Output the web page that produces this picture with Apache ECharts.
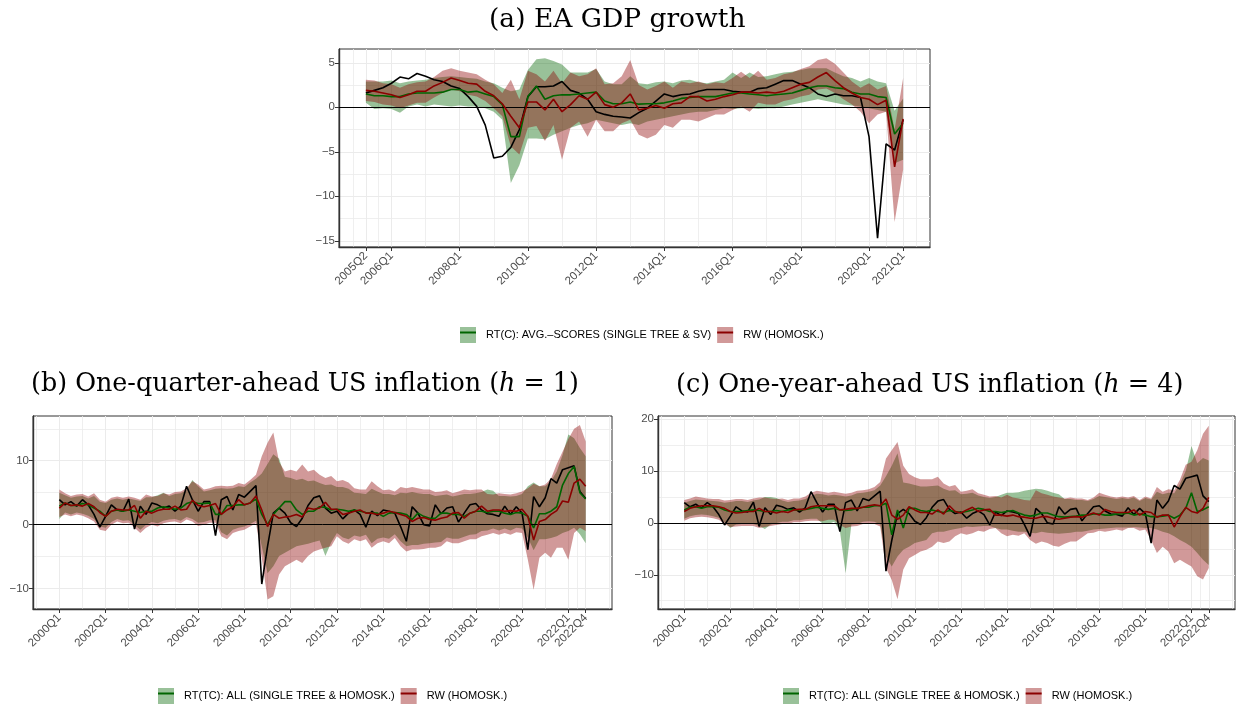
<!DOCTYPE html>
<html>
<head>
<meta charset="utf-8">
<script src="https://cdn.jsdelivr.net/npm/echarts@6/dist/echarts.min.js"></script>
<style>
  html, body { margin: 0; background: #fff; }
  #main { width: 1236px; height: 706px; }
</style>
</head>
<body>
<div id="main"></div>
<script>
// quarter lists (x categories)
function quarterList(y, q, n) {
  const out = [];
  for (let k = 0; k < n; k++) {
    out.push(y + 'Q' + q);
    q++;
    if (q > 4) { q = 1; y++; }
  }
  return out;
}
const quartersEA = quarterList(2005, 2, 64);
const quartersUS = quarterList(2000, 1, 92);

// tick labels
const ticksEA = ['2005Q2', '2006Q1', '2008Q1', '2010Q1', '2012Q1', '2014Q1', '2016Q1', '2018Q1', '2020Q1', '2021Q1'];
const ticksUS = ['2000Q1', '2002Q1', '2004Q1', '2006Q1', '2008Q1', '2010Q1', '2012Q1', '2014Q1', '2016Q1', '2018Q1', '2020Q1', '2022Q1', '2022Q4'];
const yTicksA = [5, 0, -5, -10, -15];
const yTicksB = [10, 0, -10];
const yTicksC = [20, 10, 0, -10];

// (a) EA GDP growth
const gdpActual = [1.6, 1.9, 2.2, 2.7, 3.4, 3.2, 3.8, 3.5, 3.1, 2.9, 2.4, 2.1, 1.2, 0.1, -2.0, -5.7, -5.5, -4.5, -2.5, 1.2, 2.3, 2.3, 2.4, 2.9, 1.9, 1.6, 0.9, -0.5, -0.8, -1.0, -1.1, -1.2, -0.6, -0.1, 0.7, 1.5, 1.2, 1.4, 1.5, 1.8, 2.0, 2.0, 2.0, 1.8, 1.7, 1.7, 2.1, 2.2, 2.6, 3.0, 3.0, 2.6, 2.2, 1.5, 1.2, 1.5, 1.3, 1.3, 1.1, -3.3, -14.7, -4.1, -4.8, -1.4];
const gdpRT = [1.5, 1.3, 1.3, 1.2, 1.2, 1.5, 1.6, 1.6, 1.6, 1.7, 2.0, 2.0, 1.7, 1.8, 1.5, 1.2, 0.3, -3.3, -3.3, 1.2, 2.4, 0.9, 1.3, 1.4, 1.4, 1.5, 1.6, 1.7, 0.7, 0.4, 0.4, 0.6, 0.35, 0.4, 0.4, 0.5, 0.7, 1.0, 1.1, 1.2, 1.2, 1.2, 1.4, 1.6, 1.6, 1.5, 1.4, 1.3, 1.4, 1.5, 1.6, 1.9, 2.2, 2.4, 2.4, 2.2, 2.1, 1.7, 1.5, 1.5, 1.2, 1.1, -3.0, -1.8];
const gdpRW = [1.9, 1.8, 1.6, 1.4, 1.1, 1.4, 1.8, 1.8, 2.4, 2.8, 3.3, 3.0, 2.7, 2.6, 1.8, 1.3, 0.4, -1.0, -2.3, 0.6, 0.6, -0.3, 0.9, -0.5, 0.3, 1.3, 0.9, 1.7, 0.3, 0.0, 0.5, 1.5, -0.3, -0.1, 0.2, -0.1, 0.4, 0.5, 1.2, 1.2, 0.7, 0.9, 1.2, 1.4, 1.7, 1.7, 1.6, 1.7, 1.6, 1.8, 2.2, 2.6, 2.8, 3.4, 3.9, 3.0, 2.2, 1.6, 1.1, 0.9, 0.3, 0.8, -6.7, -1.3];
const gdpRTUpper = [2.9, 2.9, 2.9, 3.0, 2.7, 2.9, 3.0, 3.1, 3.3, 3.4, 3.5, 3.4, 3.3, 3.2, 2.9, 2.7, 2.2, 1.8, 2.0, 4.2, 5.4, 5.5, 5.2, 4.8, 3.9, 3.9, 3.9, 4.3, 2.9, 2.6, 2.6, 3.5, 2.7, 2.6, 2.8, 2.9, 2.7, 3.0, 3.1, 2.8, 2.7, 2.9, 3.1, 3.9, 3.3, 3.9, 3.4, 3.5, 3.7, 3.9, 4.0, 4.2, 4.4, 4.4, 4.4, 3.9, 3.5, 3.3, 2.9, 3.3, 2.9, 2.7, -0.4, 1.0];
const gdpRTLower = [0.5, -0.2, -0.1, -0.2, -0.6, 0.1, 0.3, 0.1, 0.3, 0.2, 0.1, 0.2, 0.1, 0.1, -0.1, -0.5, -1.4, -8.5, -6.5, -3.5, -3.5, -3.6, -3.1, -2.7, -2.3, -2.0, -1.8, -1.4, -1.6, -1.8, -2.0, -1.8, -2.0, -1.6, -1.4, -1.2, -1.0, -0.8, -0.6, -0.5, -0.5, -0.3, -0.1, -0.2, -0.1, -0.1, -0.2, -0.1, -0.1, 0.1, 0.3, 0.5, 0.7, 0.9, 0.7, 0.5, 0.3, 0.2, 0.1, -0.1, -0.3, -0.5, -6.3, -5.9];
const gdpRWUpper = [3.1, 3.0, 2.7, 2.6, 2.2, 2.6, 2.8, 2.9, 3.4, 4.1, 4.4, 4.1, 3.9, 3.7, 3.1, 2.6, 1.6, 3.1, 0.9, 4.1, 3.7, 2.9, 4.1, 2.7, 3.9, 3.5, 3.7, 4.4, 2.6, 2.7, 3.5, 5.3, 2.5, 2.0, 2.4, 2.9, 2.2, 2.9, 2.7, 2.9, 2.6, 2.8, 2.7, 3.3, 4.0, 3.3, 4.1, 3.1, 3.3, 3.7, 3.9, 4.3, 4.6, 5.3, 5.5, 4.9, 3.9, 2.9, 2.2, 2.7, 2.0, 2.4, -2.5, 3.3];
const gdpRWLower = [0.7, 0.6, 0.3, 0.2, -0.1, 0.2, 0.5, 0.5, 1.1, 1.6, 2.0, 1.8, 1.4, 1.2, 0.7, -0.1, -1.0, -4.4, -5.3, -2.3, -2.1, -3.8, -2.0, -5.9, -2.3, -1.6, -3.3, -1.4, -2.7, -2.7, -1.8, -1.4, -3.1, -3.5, -3.1, -2.0, -2.3, -1.4, -1.4, -1.6, -1.2, -0.8, -0.8, -0.3, 0.1, -0.5, 0.5, 0.3, 0.3, 0.7, 0.9, 1.2, 1.4, 2.0, 2.1, 1.6, 0.9, 0.3, -0.5, -1.8, -0.8, -0.5, -12.9, -7.0];

// realised US inflation (panels b and c)
const infActual = [3.9, 3.1, 3.6, 2.9, 3.9, 3.1, 1.6, -0.4, 1.3, 3.1, 2.3, 2.1, 4.0, -0.7, 2.9, 1.6, 3.4, 3.1, 2.6, 2.9, 2.1, 2.9, 6.0, 3.9, 2.1, 3.6, 3.6, -1.7, 3.9, 4.4, 2.3, 4.7, 4.3, 5.2, 6.1, -9.3, -3.4, 1.8, 2.6, 1.8, 0.3, -0.3, 1.0, 3.0, 4.2, 4.5, 2.6, 1.8, 2.1, 0.9, 1.8, 2.3, 1.6, -0.4, 2.1, 1.4, 2.3, 2.1, 1.8, -0.3, -2.6, 2.8, 1.8, 0.0, -0.2, 3.1, 1.7, 2.6, 2.8, 0.4, 1.8, 3.1, 3.3, 2.3, 1.7, 1.6, 1.3, 2.9, 1.6, 2.8, 1.8, -3.9, 4.4, 2.8, 4.2, 7.2, 6.5, 8.6, 8.9, 9.2, 5.2, 4.1];

// (b) h = 1
const infH1RT = [2.9, 3.4, 3.0, 3.0, 3.3, 3.1, 2.6, 2.1, 1.3, 2.1, 2.3, 2.1, 2.3, 2.1, 1.9, 2.1, 2.1, 2.6, 2.8, 2.6, 2.4, 2.6, 3.3, 3.6, 3.3, 3.3, 3.4, 1.6, 1.6, 3.0, 3.0, 3.1, 3.1, 3.4, 4.0, 1.6, 0.0, 1.6, 2.6, 3.6, 3.6, 2.3, 1.6, 2.1, 2.1, 2.8, 2.7, 2.3, 2.4, 2.3, 2.1, 2.3, 2.1, 1.9, 1.8, 1.8, 1.3, 1.8, 1.9, 1.8, 1.6, 0.8, 1.8, 1.3, 1.0, 1.0, 1.8, 1.8, 1.6, 1.6, 1.3, 1.8, 2.1, 2.1, 1.9, 2.1, 2.1, 1.8, 1.6, 1.9, 1.8, 1.3, -0.5, 1.7, 1.7, 2.1, 2.8, 6.2, 8.0, 9.1, 5.0, 4.0];
const infH1RW = [2.6, 3.4, 3.0, 3.1, 2.9, 3.3, 2.8, 1.9, 1.3, 2.1, 2.4, 2.3, 2.3, 3.0, 1.0, 2.1, 1.8, 2.2, 2.4, 2.4, 2.9, 2.3, 2.4, 3.8, 3.0, 2.8, 3.0, 3.3, 1.6, 2.3, 2.8, 3.9, 3.1, 3.4, 4.5, 2.3, -0.3, 1.6, 1.0, 1.2, 1.3, 1.6, 1.2, 2.6, 2.4, 2.6, 3.5, 2.4, 2.4, 1.6, 1.8, 2.1, 2.3, 1.8, 1.8, 1.6, 1.8, 2.1, 1.9, 1.6, 1.3, 0.5, 1.0, 1.1, 0.8, 0.7, 1.0, 1.2, 1.8, 1.9, 1.0, 1.8, 2.1, 2.9, 2.1, 2.3, 2.3, 2.1, 2.2, 2.1, 2.4, 1.3, -2.4, 0.5, 0.8, 1.6, 2.2, 3.7, 3.5, 6.5, 7.1, 6.0];
const infH1RTUpper = [5.0, 4.6, 4.2, 4.4, 4.5, 4.1, 4.5, 3.6, 3.4, 3.9, 4.1, 3.9, 4.1, 3.9, 3.7, 4.3, 4.3, 4.6, 5.0, 4.5, 4.8, 4.9, 5.4, 7.0, 6.0, 5.2, 5.4, 5.6, 5.7, 5.6, 5.7, 6.0, 5.9, 6.6, 7.2, 8.0, 9.5, 11.0, 10.3, 7.5, 7.3, 7.0, 7.2, 6.8, 6.9, 6.5, 6.2, 6.3, 5.9, 5.9, 5.6, 5.0, 4.9, 4.8, 5.6, 5.2, 4.8, 4.8, 4.6, 5.0, 4.9, 5.1, 4.9, 4.8, 4.8, 4.5, 4.6, 4.7, 4.4, 4.6, 4.8, 4.8, 4.9, 5.1, 5.5, 5.3, 4.5, 4.5, 4.4, 4.5, 4.8, 6.0, 6.6, 6.0, 6.0, 6.8, 8.3, 10.9, 14.1, 13.5, 12.0, 10.7];
const infH1RTLower = [0.9, 1.9, 1.6, 1.9, 1.7, 1.4, 0.9, -0.3, -0.5, 0.4, 0.9, 0.6, 0.7, 0.0, -0.8, 0.0, 0.4, 0.2, 0.6, 0.8, 0.9, 0.6, 1.2, 0.9, 0.3, 0.4, 0.7, 0.7, -1.2, -1.7, -0.8, -0.5, -0.3, 0.1, 0.6, -3.4, -7.6, -6.5, -4.9, -4.4, -3.9, -3.4, -3.2, -3.0, -2.7, -2.5, -4.9, -2.8, -1.3, -2.0, -2.3, -1.7, -1.9, -1.6, -2.9, -2.2, -2.0, -2.2, -1.5, -2.6, -3.4, -3.2, -3.2, -3.0, -2.9, -2.8, -2.7, -2.0, -2.2, -2.2, -1.9, -1.6, -1.5, -1.0, -0.9, -0.6, -0.9, -0.6, -0.9, -0.5, -0.6, -2.0, -4.0, -2.3, -2.3, -2.1, -1.8, -1.3, -1.0, -0.5, -1.5, -2.9];
const infH1RWUpper = [5.5, 4.9, 4.5, 4.7, 4.8, 4.4, 4.9, 3.9, 3.6, 4.2, 4.4, 4.2, 4.4, 4.2, 3.9, 4.7, 4.4, 4.5, 4.9, 4.7, 5.1, 5.2, 5.7, 6.8, 6.3, 5.5, 5.7, 6.0, 6.1, 6.0, 6.1, 6.5, 6.3, 7.0, 7.8, 10.7, 12.8, 14.4, 9.8, 8.3, 8.6, 8.3, 9.4, 8.3, 8.6, 7.8, 7.3, 7.6, 6.8, 7.0, 6.6, 5.7, 5.5, 5.5, 6.8, 6.0, 5.4, 5.5, 5.2, 5.9, 5.7, 5.9, 5.7, 5.5, 5.5, 5.1, 5.2, 5.4, 4.9, 5.2, 5.5, 5.4, 5.5, 5.5, 4.8, 4.7, 4.9, 4.8, 4.7, 4.9, 5.2, 5.7, 6.4, 6.0, 6.3, 7.2, 9.5, 11.4, 13.4, 15.0, 15.6, 13.0];
const infH1RWLower = [1.2, 1.6, 1.3, 1.6, 1.4, 1.0, 0.5, -0.8, -1.0, 0.0, 0.5, 0.2, 0.3, -0.5, -1.3, -0.5, 0.0, -0.3, 0.2, 0.4, 0.5, 0.2, 0.8, 0.5, -0.2, 0.0, 0.3, 0.3, -1.8, -2.3, -1.3, -1.0, -0.8, -0.3, 0.2, -5.2, -11.7, -11.2, -7.8, -6.5, -6.0, -5.5, -6.0, -4.9, -4.2, -3.9, -3.6, -3.4, -1.8, -2.6, -3.0, -2.3, -2.6, -2.3, -3.6, -2.9, -2.6, -2.9, -2.1, -3.4, -4.2, -3.9, -3.9, -3.8, -3.6, -3.6, -3.4, -2.6, -2.9, -2.9, -2.6, -2.3, -2.3, -1.8, -1.6, -1.3, -1.6, -1.3, -1.6, -1.2, -1.3, -5.5, -10.2, -5.2, -4.4, -5.2, -3.6, -3.6, -5.5, -1.3, -0.5, -1.0];

// (c) h = 4
const infH4RT = [2.5, 3.0, 3.1, 2.8, 3.1, 3.1, 3.0, 2.5, 2.2, 2.2, 2.2, 2.4, 2.5, 2.4, 2.2, 2.2, 2.4, 2.2, 2.5, 2.5, 2.5, 2.6, 2.8, 3.0, 2.8, 2.6, 2.8, 2.5, 2.4, 2.5, 2.8, 3.0, 3.0, 3.3, 3.3, 3.8, -2.3, 2.5, -1.0, 2.8, 2.8, 2.4, 2.2, 2.5, 2.2, 2.0, 2.4, 2.2, 2.0, 2.2, 2.5, 2.8, 2.6, 2.2, 2.2, 2.0, 2.2, 2.4, 1.9, 1.5, 1.3, 1.5, 1.9, 1.9, 1.5, 1.2, 1.1, 1.2, 1.3, 1.5, 1.5, 1.7, 1.7, 1.5, 1.5, 1.7, 1.7, 1.9, 1.5, 1.7, 1.5, 1.2, 1.2, 1.3, 1.5, 0.9, 1.5, 2.8, 5.8, 2.2, 2.5, 3.1];
const infH4RW = [2.2, 2.8, 3.1, 3.3, 3.3, 3.3, 3.1, 2.8, 2.2, 1.9, 2.0, 2.2, 2.2, 2.8, 2.2, 2.2, 1.9, 2.2, 2.0, 2.5, 2.6, 2.6, 3.1, 3.3, 3.3, 3.3, 3.3, 2.5, 2.6, 2.8, 2.8, 3.0, 3.3, 3.5, 3.3, 4.6, 1.5, 0.7, 1.5, 3.1, 2.5, 2.0, 2.0, 1.7, 2.5, 1.7, 3.3, 2.2, 1.9, 2.5, 3.0, 2.2, 2.5, 2.6, 1.5, 1.5, 1.3, 1.5, 1.2, 1.1, 0.9, 0.9, 1.2, 1.2, 0.9, 0.7, 0.9, 1.1, 1.2, 1.1, 1.5, 1.9, 1.5, 2.6, 2.2, 2.0, 2.0, 2.0, 2.5, 1.5, 2.2, 2.0, 1.1, 1.5, 1.5, -0.8, 1.2, 3.0, 2.2, 1.9, 2.8, 4.9];
const infH4RTUpper = [3.9, 4.2, 4.5, 4.4, 4.3, 4.2, 4.1, 3.9, 4.0, 4.2, 4.2, 4.0, 4.3, 4.5, 5.0, 5.0, 4.8, 4.3, 4.0, 4.2, 4.3, 4.6, 5.2, 5.6, 5.5, 5.3, 5.4, 5.3, 5.1, 5.3, 5.7, 5.8, 6.0, 6.3, 7.2, 9.0, 11.0, 13.4, 7.8, 7.6, 7.3, 7.0, 7.0, 7.1, 7.2, 6.6, 6.2, 6.3, 5.5, 5.6, 5.8, 5.3, 5.0, 4.8, 5.0, 5.4, 5.8, 5.8, 5.9, 6.2, 6.4, 6.6, 6.5, 6.2, 5.8, 5.5, 4.6, 4.6, 4.4, 4.4, 4.2, 4.6, 5.2, 5.0, 4.8, 4.6, 4.8, 4.6, 4.9, 4.2, 4.8, 4.5, 6.0, 5.5, 5.8, 5.7, 7.5, 10.0, 14.8, 11.5, 12.5, 12.0];
const infH4RTLower = [0.8, 1.3, 1.5, 1.6, 1.5, 1.3, 1.0, 0.1, -1.0, -0.3, -0.2, -0.2, -0.2, -0.6, -1.2, -0.3, 0.0, 0.2, 0.2, 0.5, 0.5, 0.7, 0.8, 0.8, -0.1, -0.2, 0.2, -1.5, -9.7, -0.3, -0.2, 0.2, 0.3, 0.2, -0.3, -6.5, -8.4, -6.5, -5.2, -4.6, -3.9, -3.6, -3.3, -2.0, -1.7, -1.7, -1.4, -1.2, -1.0, -0.7, -0.8, -0.7, -0.6, -0.6, -1.0, -1.3, -1.3, -1.5, -1.7, -1.7, -1.9, -2.0, -1.7, -1.9, -2.0, -2.1, -2.0, -1.9, -1.7, -1.7, -1.5, -1.3, -1.2, -1.1, -1.0, -0.9, -0.9, -0.9, -0.8, -0.9, -1.0, -1.0, -1.3, -1.7, -2.0, -2.6, -3.3, -3.9, -4.6, -5.8, -7.1, -8.1];
const infH4RWUpper = [4.4, 4.7, 5.1, 4.9, 4.7, 4.6, 4.6, 4.3, 4.4, 4.6, 4.6, 4.4, 4.7, 4.9, 4.9, 4.7, 4.6, 4.7, 4.4, 4.7, 4.7, 5.1, 5.8, 6.2, 6.0, 5.8, 6.0, 5.8, 5.6, 5.8, 6.2, 6.3, 6.5, 6.9, 7.9, 12.4, 14.0, 15.6, 11.0, 9.4, 8.8, 8.4, 8.4, 8.4, 8.9, 7.6, 7.0, 7.3, 6.0, 6.2, 6.5, 5.7, 5.4, 5.1, 5.2, 4.9, 5.4, 4.9, 4.7, 4.4, 4.3, 6.3, 5.7, 5.4, 5.1, 4.9, 4.7, 4.9, 4.7, 4.7, 4.4, 4.9, 5.8, 5.4, 5.1, 4.9, 5.1, 4.9, 5.2, 4.4, 5.1, 4.7, 6.9, 6.0, 6.5, 6.3, 8.3, 11.2, 11.8, 14.0, 17.2, 18.7];
const infH4RWLower = [0.4, 0.9, 1.1, 1.2, 1.1, 0.9, 0.6, -0.2, -0.8, -0.7, -0.6, -0.6, -0.6, -1.0, -0.8, -0.6, -0.4, -0.2, -0.2, 0.1, 0.1, 0.3, 0.4, 0.4, 0.3, 0.6, 0.6, -0.4, -1.0, -0.7, -0.6, -0.2, -0.1, -0.2, -0.7, -8.7, -11.0, -14.7, -9.0, -6.8, -6.2, -5.5, -5.2, -4.6, -3.6, -3.9, -3.6, -2.6, -2.0, -2.3, -2.0, -1.5, -1.7, -1.2, -1.0, -2.0, -2.6, -2.3, -2.5, -2.0, -3.3, -4.0, -3.6, -3.9, -4.4, -4.6, -4.0, -3.6, -3.6, -2.8, -2.0, -1.9, -1.5, -1.7, -1.5, -1.3, -1.5, -1.0, -1.0, -1.5, -1.3, -3.3, -5.8, -4.6, -5.5, -7.8, -7.1, -7.8, -8.4, -10.3, -10.9, -8.7];

const nameRTa = 'RT(C): AVG.\u2013SCORES (SINGLE TREE & SV)';
const nameRTbc = 'RT(TC): ALL (SINGLE TREE & HOMOSK.)';
const nameRW = 'RW (HOMOSK.)';

const GREEN = '#006400', RED = '#8b0000';
const GREEN_FILL = 'rgba(0,100,0,0.4)', RED_FILL = 'rgba(139,0,0,0.4)';

const panels = [
  { grid: { left: 339, top: 49, width: 591, height: 198 },
    xMin: -3.15, xMax: 66.15, yMin: -15.7, yMax: 6.55,
    quarters: quartersEA, ticks: ticksEA, minorX: [-1.5, 1.5, 7, 15, 23, 31, 39, 47, 55, 61, 64.5],
    yTicks: yTicksA, minorY: [2.5, -2.5, -7.5, -12.5],
    actual: gdpActual, rt: gdpRT, rw: gdpRW,
    rtHi: gdpRTUpper, rtLo: gdpRTLower, rwHi: gdpRWUpper, rwLo: gdpRWLower,
    rtName: nameRTa, legendPos: { left: 460, top: 327 } },
  { grid: { left: 33, top: 416, width: 579, height: 193 },
    xMin: -4.55, xMax: 95.55, yMin: -13.2, yMax: 17.0,
    quarters: quartersUS, ticks: ticksUS, minorX: [-4, 4, 12, 20, 28, 36, 44, 52, 60, 68, 76, 84, 89.5, 95],
    yTicks: yTicksB, minorY: [15, 5, -5],
    actual: infActual, rt: infH1RT, rw: infH1RW,
    rtHi: infH1RTUpper, rtLo: infH1RTLower, rwHi: infH1RWUpper, rwLo: infH1RWLower,
    rtName: nameRTbc, legendPos: { left: 158, top: 688 } },
  { grid: { left: 658, top: 416, width: 577, height: 193 },
    xMin: -4.55, xMax: 95.55, yMin: -16.6, yMax: 20.6,
    quarters: quartersUS, ticks: ticksUS, minorX: [-4, 4, 12, 20, 28, 36, 44, 52, 60, 68, 76, 84, 89.5, 95],
    yTicks: yTicksC, minorY: [15, 5, -5, -15],
    actual: infActual, rt: infH4RT, rw: infH4RW,
    rtHi: infH4RTUpper, rtLo: infH4RTLower, rwHi: infH4RWUpper, rwLo: infH4RWLower,
    rtName: nameRTbc, legendPos: { left: 783, top: 688 } }
];

const grids = [], xAxes = [], yAxes = [], series = [], legends = [];
const axisFont = { color: '#4d4d4d', fontSize: 11.5, fontFamily: 'Liberation Sans' };

panels.forEach(function (p, k) {
  grids.push(Object.assign({ show: true, borderColor: '#333', borderWidth: 1, backgroundColor: '#fff', outerBoundsMode: 'none', containLabel: false }, p.grid));
  const tickIdx = p.ticks.map(function (t) { return p.quarters.indexOf(t); });

  // major x axis
  xAxes.push({
    type: 'value', gridIndex: k, min: p.xMin, max: p.xMax,
    axisLine: { show: true, onZero: false, lineStyle: { color: '#333', width: 1.4 } },
    axisTick: { show: true, customValues: tickIdx, length: 4, lineStyle: { color: '#333' } },
    axisLabel: Object.assign({ customValues: tickIdx, rotate: 45, margin: 7, hideOverlap: false,
      formatter: function (v) { return p.quarters[Math.round(v)]; } }, axisFont),
    splitLine: { show: true, lineStyle: { color: '#ebebeb', width: 1 } }
  });
  // minor x grid
  xAxes.push({
    type: 'value', gridIndex: k, min: p.xMin, max: p.xMax,
    axisLine: { show: false }, axisLabel: { show: false },
    axisTick: { show: false, customValues: p.minorX },
    splitLine: { show: true, lineStyle: { color: '#ebebeb', width: 0.8 } }
  });
  yAxes.push({
    type: 'value', gridIndex: k, min: p.yMin, max: p.yMax,
    axisLine: { show: true, onZero: false, lineStyle: { color: '#333', width: 1.4 } },
    axisTick: { show: true, customValues: p.yTicks, length: 4, lineStyle: { color: '#333' } },
    axisLabel: Object.assign({ customValues: p.yTicks, margin: 4,
      formatter: function (v) { return String(v).replace('-', '\u2212'); } }, axisFont),
    splitLine: { show: true, lineStyle: { color: '#ebebeb', width: 1 } }
  });
  yAxes.push({
    type: 'value', gridIndex: k, min: p.yMin, max: p.yMax,
    axisLine: { show: false }, axisLabel: { show: false },
    axisTick: { show: false, customValues: p.minorY },
    splitLine: { show: true, lineStyle: { color: '#ebebeb', width: 0.8 } }
  });

  const xi = 2 * k, yi = 2 * k;
  function pts(arr) { return arr.map(function (v, i) { return [i, v]; }); }

  // ribbon drawn as one polygon through the axes' coordinate transform
  function band(lo, hi, fill, name) {
    series.push({
      type: 'custom', name: name, xAxisIndex: xi, yAxisIndex: yi, silent: true, z: 1,
      data: lo.map(function (v, i) { return [i, v, hi[i]]; }),
      encode: { x: 0, y: [1, 2] },
      renderItem: function (params, api) {
        if (params.dataIndex !== 0) return null;
        const poly = [];
        for (let i = 0; i < hi.length; i++) poly.push(api.coord([i, hi[i]]));
        for (let i = lo.length - 1; i >= 0; i--) poly.push(api.coord([i, lo[i]]));
        return { type: 'polygon', shape: { points: poly }, style: { fill: fill, stroke: null } };
      }
    });
  }
  band(p.rtLo, p.rtHi, GREEN_FILL, 'band-rt-' + k);
  band(p.rwLo, p.rwHi, RED_FILL, 'band-rw-' + k);

  series.push({
    type: 'line', name: 'Actual', xAxisIndex: xi, yAxisIndex: yi, data: pts(p.actual),
    symbol: 'none', color: '#000', lineStyle: { color: '#000', width: 1.6 }, z: 3,
    markLine: { silent: true, symbol: ['none', 'none'], label: { show: false },
      lineStyle: { color: '#000', width: 1, type: 'solid' }, data: [{ yAxis: 0 }] }
  });
  series.push({
    type: 'line', name: p.rtName, xAxisIndex: xi, yAxisIndex: yi, data: pts(p.rt),
    symbol: 'none', color: GREEN, lineStyle: { color: GREEN, width: 1.6 }, z: 4
  });
  series.push({
    type: 'line', name: nameRW, xAxisIndex: xi, yAxisIndex: yi, data: pts(p.rw),
    symbol: 'none', color: RED, lineStyle: { color: RED, width: 1.6 }, z: 5
  });

  const legText = { color: '#000', fontSize: 11, fontFamily: 'Liberation Sans', padding: [0, 0, 0, 5] };
  legends.push({
    left: p.legendPos.left, top: p.legendPos.top, orient: 'horizontal',
    itemWidth: 16, itemHeight: 16, itemGap: 6, selectedMode: false, padding: 0,
    textStyle: legText,
    data: [
      { name: p.rtName, icon: 'rect', itemStyle: { color: GREEN_FILL, borderWidth: 0 } },
      { name: nameRW, icon: 'rect', itemStyle: { color: RED_FILL, borderWidth: 0 } }
    ]
  });
  legends.push({
    left: p.legendPos.left, top: p.legendPos.top, orient: 'horizontal',
    itemWidth: 16, itemHeight: 16, itemGap: 6, selectedMode: false, padding: 0,
    textStyle: Object.assign({}, legText, { color: 'rgba(0,0,0,0)' }),
    data: [
      { name: p.rtName, icon: 'path://M0,0H16V2H0Z', itemStyle: { color: GREEN, borderWidth: 0 } },
      { name: nameRW, icon: 'path://M0,0H16V2H0Z', itemStyle: { color: RED, borderWidth: 0 } }
    ]
  });
});

function titleStyle(size) {
  return {
    fontFamily: 'DejaVu Serif', fontSize: size, fontWeight: 'normal', color: '#000',
    rich: { i: { fontFamily: 'DejaVu Serif', fontSize: size, fontStyle: 'italic', color: '#000' } }
  };
}

const chart = echarts.init(document.getElementById('main'), null, { renderer: 'canvas' });
chart.setOption({
  animation: false,
  backgroundColor: '#fff',
  title: [
    { text: '(a) EA GDP growth', left: 489, top: 7, padding: 0, textStyle: titleStyle(26.5) },
    { text: '(b) One-quarter-ahead US inflation ({i|h} = 1)', left: 31, top: 372, padding: 0, textStyle: titleStyle(25.4) },
    { text: '(c) One-year-ahead US inflation ({i|h} = 4)', left: 676, top: 372, padding: 0, textStyle: titleStyle(25.5) }
  ],
  legend: legends,
  grid: grids,
  xAxis: xAxes,
  yAxis: yAxes,
  series: series
});
</script>
</body>
</html>
